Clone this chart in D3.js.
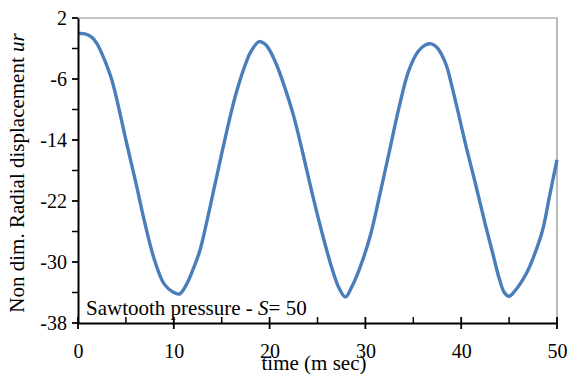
<!DOCTYPE html>
<html><head><meta charset="utf-8">
<script src="https://cdn.jsdelivr.net/npm/d3@7"></script>
<style>body{margin:0;background:#fff}svg{display:block}</style>
</head><body><svg id="c" width="568" height="374"></svg>
<script>
const timeValues = [0,0.5,1,1.5,2,2.5,3,3.5,4,5,6,7,8,9,10,10.6,11.3,12,12.7,13.5,14.3,15,15.5,16,16.5,17,17.5,18,18.9,19.5,20,20.75,21.5,22.5,23.5,24.5,25.5,26.5,27.2,27.9,28.6,29.5,30.5,31.5,32.5,33.5,34.5,35.5,36.3,36.9,37.5,38,38.5,39,39.5,40,40.5,41.5,42.5,43.3,44,44.5,45,45.6,46.8,47.5,48.5,49.2,50];
const urValues = [0.0,-0.05,-0.2,-0.6,-1.4,-2.7,-4.2,-6.0,-8.4,-14.0,-19.4,-25.0,-29.8,-32.9,-34.0,-34.2,-33.0,-31.0,-28.6,-24.4,-19.8,-15.8,-13.0,-10.3,-7.9,-5.8,-4.0,-2.5,-1.1,-1.4,-2.2,-4.2,-6.8,-10.8,-15.9,-21.3,-26.3,-30.8,-33.3,-34.6,-33.2,-30.5,-26.6,-21.2,-15.5,-9.8,-5.0,-2.4,-1.5,-1.4,-1.9,-2.9,-4.4,-6.8,-9.4,-12.1,-14.8,-19.8,-25.0,-28.9,-32.3,-34.0,-34.5,-33.8,-31.5,-29.5,-25.8,-21.5,-16.6];
const xTickValues = [0,10,20,30,40,50];
const xMinorTicks = [5,15,25,35,45];
const yTickValues = [2,-6,-14,-22,-30,-38];
const yMinorTicks = [-2,-10,-18,-26,-34];
const xTitle = "time (m sec)";
const yTitle = "Non dim. Radial displacement ";
const yTitleItalic = "ur";
const legendText = "Sawtooth pressure - ";
const legendItalic = "S";
const legendTail = "= 50";

const svg = d3.select("#c");
const L=78, R=557, T=18, B=323;
const x = d3.scaleLinear().domain([0,50]).range([L,R]);
const y = d3.scaleLinear().domain([-38,2]).range([B,T]);
const font = "Liberation Serif, Times New Roman, serif";

// frame top/right
svg.append("path").attr("d",`M${L},${T}H${R}V${B}`).attr("fill","none").attr("stroke","#8c8c8c").attr("stroke-width",1.2);

// curve
const line = d3.line().x((d,i)=>x(timeValues[i])).y(d=>y(d)).curve(d3.curveCatmullRom.alpha(0.5));
svg.append("path").datum(urValues).attr("d",line).attr("fill","none").attr("stroke","#4a7ebb").attr("stroke-width",3.4).attr("stroke-linejoin","round");

// x axis
const gx = svg.append("g").attr("transform",`translate(0,${B})`);
gx.call(d3.axisBottom(x).tickValues(xTickValues).tickSize(0).tickPadding(21).tickFormat(d=>String(d)));
gx.attr("font-family",font);
gx.select(".domain").attr("stroke","#000").attr("stroke-width",2);
gx.selectAll(".tick text").style("font-family",font).attr("font-size",20).attr("fill","#000");
gx.selectAll(".majx").data(xTickValues).enter().append("line").attr("x1",d=>x(d)).attr("x2",d=>x(d)).attr("y1",-6).attr("y2",6).attr("stroke","#000").attr("stroke-width",1.8);
gx.selectAll(".minx").data(xMinorTicks).enter().append("line").attr("x1",d=>x(d)).attr("x2",d=>x(d)).attr("y1",-6).attr("y2",0).attr("stroke","#000").attr("stroke-width",1.5);

// y axis
const gy = svg.append("g").attr("transform",`translate(${L},0)`);
gy.call(d3.axisLeft(y).tickValues(yTickValues).tickSize(0).tickPadding(11).tickFormat(d=>String(d)));
gy.attr("font-family",font);
gy.select(".domain").attr("stroke","#000").attr("stroke-width",2);
gy.selectAll(".tick text").style("font-family",font).attr("font-size",20).attr("fill","#000");
gy.selectAll(".majy").data(yTickValues).enter().append("line").attr("x1",-6).attr("x2",0).attr("y1",d=>y(d)).attr("y2",d=>y(d)).attr("stroke","#000").attr("stroke-width",1.8);
gy.selectAll(".miny").data(yMinorTicks).enter().append("line").attr("x1",-6).attr("x2",0).attr("y1",d=>y(d)).attr("y2",d=>y(d)).attr("stroke","#000").attr("stroke-width",1.5);

// x title
svg.append("text").attr("x",314).attr("y",370).attr("text-anchor","middle").style("font-family",font).attr("font-size",21).text(xTitle);

// y title
const yt = svg.append("text").attr("transform","translate(24,173) rotate(-90)").attr("text-anchor","middle").style("font-family",font).attr("font-size",21);
yt.append("tspan").text(yTitle);
yt.append("tspan").attr("font-style","italic").text(yTitleItalic);

// legend
const lg = svg.append("text").attr("x",86).attr("y",315).style("font-family",font).attr("font-size",21);
lg.append("tspan").text(legendText);
lg.append("tspan").attr("font-style","italic").text(legendItalic);
lg.append("tspan").text(legendTail);
</script></body></html>
